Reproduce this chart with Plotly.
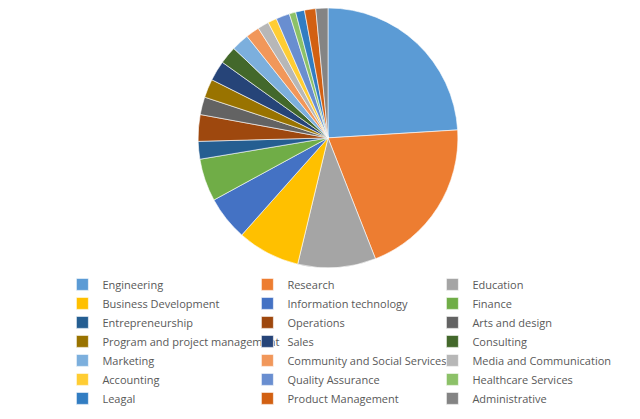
import plotly.graph_objects as go

labels = ["Engineering", "Research", "Education", "Business Development", "Information technology",
          "Finance", "Entrepreneurship", "Operations", "Arts and design", "Program and project management",
          "Sales", "Consulting", "Marketing", "Community and Social Services", "Media and Communication",
          "Accounting", "Quality Assurance", "Healthcare Services", "Leagal", "Product Management",
          "Administrative"]
values = [24.0, 20.0, 9.7, 7.8, 5.5, 5.3, 2.2, 3.3, 2.2, 2.3, 2.5, 2.2, 2.2, 1.7, 1.4,
          1.1, 1.7, 0.8, 1.1, 1.4, 1.5]
colors = ["#5B9BD5", "#ED7D31", "#A5A5A5", "#FFC000", "#4472C4", "#70AD47",
          "#255E91", "#9E480E", "#636363", "#997300", "#264478", "#43682B",
          "#7CAFDD", "#F1975A", "#B7B7B7", "#FFCD33", "#698ED0", "#8CC168",
          "#327DC2", "#D26012", "#848484"]

fig = go.Figure(go.Pie(labels=labels, values=values, sort=False, direction="clockwise",
                       rotation=0, textinfo="none", hoverinfo="label+percent",
                       marker=dict(colors=colors, line=dict(color="white", width=0.6)),
                       domain=dict(x=[0, 1], y=[0.38, 1.0])))
fig.update_layout(width=640, height=419, margin=dict(l=0, r=0, t=0, b=0),
                  paper_bgcolor="white", plot_bgcolor="white",
                  font=dict(family="Open Sans", size=10.5, color="#595959"),
                  legend=dict(orientation="h", x=0.085, xanchor="left", y=0.375, yanchor="top",
                              entrywidth=140, entrywidthmode="pixels", traceorder="normal",
                              itemwidth=30, tracegroupgap=0,
                              font=dict(size=11, color="#595959")))
fig.write_html("out.html")
